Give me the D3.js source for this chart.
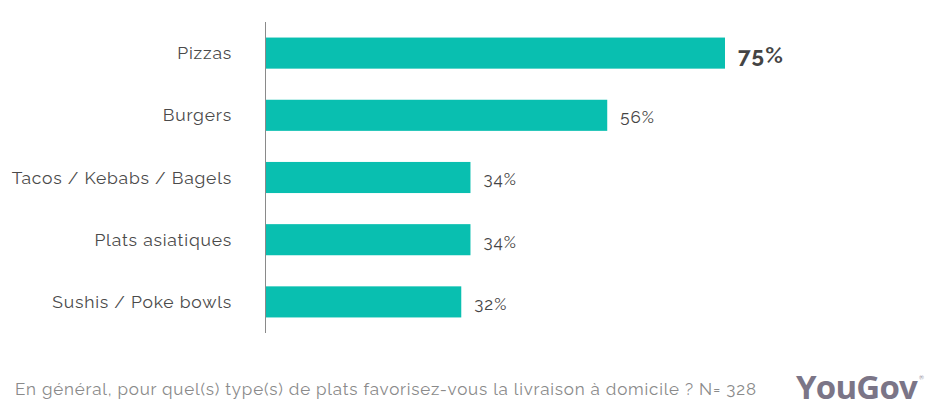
<!DOCTYPE html>
<html><head><meta charset="utf-8">
<script src="https://cdn.jsdelivr.net/npm/d3@7"></script>
<style>body{margin:0;background:#fff}svg{display:block}</style>
</head><body><svg id="c" width="925" height="412"></svg>
<script>
const categories = ["Pizzas","Burgers","Tacos / Kebabs / Bagels","Plats asiatiques","Sushis / Poke bowls"];
const values = [75, 55.8, 33.5, 33.5, 32];
const footnote = "En général, pour quel(s) type(s) de plats favorisez-vous la livraison à domicile ? N= 328";

const svg = d3.select("#c");
const font = "Raleway, Lato, 'Open Sans', sans-serif";
const x = d3.scaleLinear().domain([0, 75]).range([265, 725]);
const y = d3.scaleBand().domain(categories).range([22, 333]).paddingInner(0.5).paddingOuter(0.25);

svg.selectAll("rect.bar").data(categories).join("rect")
  .attr("x", x(0)).attr("y", d => y(d))
  .attr("width", (d,i) => x(values[i]) - x(0)).attr("height", y.bandwidth())
  .attr("fill", "#09bfb0");

svg.append("line").attr("x1", 265.5).attr("x2", 265.5).attr("y1", 22).attr("y2", 333)
  .attr("stroke", "#8a8a8a").attr("stroke-width", 1);

svg.selectAll("text.cat").data(categories).join("text")
  .attr("x", 232).attr("y", d => y(d) + y.bandwidth()/2).attr("dy", "0.35em")
  .attr("text-anchor", "end").attr("font-family", font).attr("font-size", 17.5)
  .attr("letter-spacing", 0.8)
  .attr("fill", "#4a4a4a").text(d => d);

svg.selectAll("text.val").data(categories).join("text")
  .attr("x", (d,i) => x(values[i]) + 13)
  .attr("y", d => y(d) + y.bandwidth()/2 + 2).attr("dy", "0.35em")
  .attr("font-family", font)
  .attr("font-size", (d,i) => i === 0 ? 22.5 : 17)
  .attr("letter-spacing", (d,i) => i === 0 ? 1.2 : 1)
  .attr("font-weight", (d,i) => i === 0 ? "bold" : "normal")
  .attr("fill", "#444").text((d,i) => Math.round(values[i]) + "%");

svg.append("text").attr("x", 15).attr("y", 395).attr("font-family", font)
  .attr("font-size", 17).attr("letter-spacing", 0.8).attr("fill", "#8a8a8a").text(footnote);

svg.append("text").attr("x", 917).attr("y", 399).attr("text-anchor", "end")
  .attr("font-family", "'Open Sans', Lato, sans-serif").attr("font-weight", "bold")
  .attr("font-size", 33).attr("letter-spacing", -0.8).attr("fill", "#7b7587").text("YouGov");
svg.append("text").attr("x", 924).attr("y", 380).attr("text-anchor", "end")
  .attr("font-family", font).attr("font-size", 6).attr("fill", "#7b7587").text("®");
</script></body></html>
